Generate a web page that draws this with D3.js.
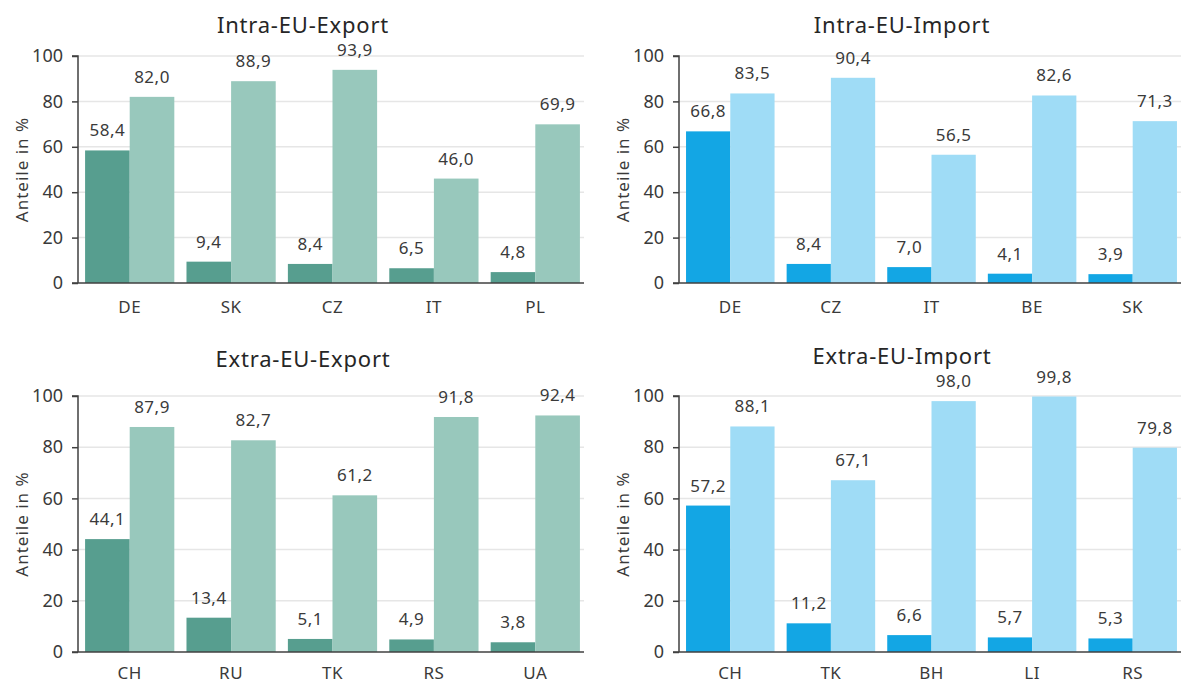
<!DOCTYPE html>
<html>
<head>
<meta charset="utf-8">
<script src="https://cdn.jsdelivr.net/npm/d3@7"></script>
<style>
  html, body { margin: 0; padding: 0; background: #fff; }
  svg { display: block; font-family: "Noto Sans", "Open Sans", sans-serif; }
</style>
</head>
<body>
<svg id="chart" width="1181" height="684"></svg>
<script>
// Shares in % for the top partner countries (dark = first series, light = second series)
const intraExportCats = ["DE", "SK", "CZ", "IT", "PL"];
const intraExportA = [58.4, 9.4, 8.4, 6.5, 4.8];
const intraExportB = [82.0, 88.9, 93.9, 46.0, 69.9];

const intraImportCats = ["DE", "CZ", "IT", "BE", "SK"];
const intraImportA = [66.8, 8.4, 7.0, 4.1, 3.9];
const intraImportB = [83.5, 90.4, 56.5, 82.6, 71.3];

const extraExportCats = ["CH", "RU", "TK", "RS", "UA"];
const extraExportA = [44.1, 13.4, 5.1, 4.9, 3.8];
const extraExportB = [87.9, 82.7, 61.2, 91.8, 92.4];

const extraImportCats = ["CH", "TK", "BH", "LI", "RS"];
const extraImportA = [57.2, 11.2, 6.6, 5.7, 5.3];
const extraImportB = [88.1, 67.1, 98.0, 99.8, 79.8];

const yTicks = [0, 20, 40, 60, 80, 100];
const yLabel = "Anteile in %";

const greens = ["#579e8f", "#98c8bc"];
const blues = ["#13a6e4", "#9fdcf6"];

const panels = [
  { title: "Intra-EU-Export", cats: intraExportCats, a: intraExportA, b: intraExportB, colors: greens,
    axisX: 78, x0: 79, x1: 586, yTop: 56, yBottom: 283, titleX: 303, titleY: 33, catY: 313 },
  { title: "Intra-EU-Import", cats: intraImportCats, a: intraImportA, b: intraImportB, colors: blues,
    axisX: 679, x0: 680, x1: 1183, yTop: 56, yBottom: 283, titleX: 902, titleY: 33, catY: 313 },
  { title: "Extra-EU-Export", cats: extraExportCats, a: extraExportA, b: extraExportB, colors: greens,
    axisX: 78, x0: 79, x1: 586, yTop: 396, yBottom: 652, titleX: 303, titleY: 367, catY: 679 },
  { title: "Extra-EU-Import", cats: extraImportCats, a: extraImportA, b: extraImportB, colors: blues,
    axisX: 679, x0: 680, x1: 1183, yTop: 396, yBottom: 652, titleX: 902, titleY: 364, catY: 679 }
];

const svg = d3.select("#chart");
const fmt = v => d3.format(".1f")(v).replace(".", ",");
const textColor = "#3a3a3a";

panels.forEach(p => {
  const g = svg.append("g");
  const y = d3.scaleLinear().domain([0, 100]).range([p.yBottom, p.yTop]);
  const x = d3.scaleBand().domain(p.cats).range([p.x0, p.x1]).paddingInner(0.12).paddingOuter(0.06);
  const xs = d3.scaleBand().domain(["a", "b"]).range([0, x.bandwidth()]);

  // gridlines
  g.append("g").selectAll("line").data(yTicks.filter(t => t > 0)).join("line")
    .attr("x1", p.axisX).attr("x2", p.x1 - 2)
    .attr("y1", d => y(d)).attr("y2", d => y(d))
    .attr("stroke", "#e6e6e6").attr("stroke-width", 1.5);

  // bars
  const rows = p.cats.map((c, i) => ({ cat: c, a: p.a[i], b: p.b[i] }));
  const grp = g.append("g").selectAll("g").data(rows).join("g")
    .attr("transform", d => `translate(${x(d.cat)},0)`);
  grp.selectAll("rect").data(d => [{ k: "a", v: d.a }, { k: "b", v: d.b }]).join("rect")
    .attr("x", d => xs(d.k)).attr("width", xs.bandwidth())
    .attr("y", d => y(d.v)).attr("height", d => y(0) - y(d.v))
    .attr("fill", d => d.k === "a" ? p.colors[0] : p.colors[1]);
  grp.selectAll("text").data(d => [{ k: "a", v: d.a }, { k: "b", v: d.b }]).join("text")
    .attr("x", d => xs(d.k) + xs.bandwidth() / 2)
    .attr("y", d => y(d.v) - 14)
    .attr("text-anchor", "middle")
    .attr("font-size", 17).attr("letter-spacing", 0.5).attr("fill", textColor)
    .text(d => fmt(d.v));

  // y axis
  const yAxis = d3.axisLeft(y).tickValues(yTicks).tickSize(6).tickPadding(9);
  const ya = g.append("g").attr("transform", `translate(${p.axisX},0)`).call(yAxis);
  ya.attr("font-family", null);
  ya.select(".domain").attr("stroke", "#404040").attr("stroke-width", 1.5).attr("d", `M-6,${p.yTop}H0V${p.yBottom}`);
  ya.selectAll(".tick line").attr("stroke", "#404040").attr("stroke-width", 1.5);
  ya.selectAll(".tick text").attr("font-size", 18).attr("fill", textColor);

  // x axis
  const xAxis = d3.axisBottom(x).tickSize(0).tickPadding(0);
  const xa = g.append("g").attr("transform", `translate(0,${p.yBottom})`).call(xAxis);
  xa.attr("font-family", null);
  xa.select(".domain").attr("stroke", "#404040").attr("stroke-width", 1.5).attr("d", `M${p.axisX - 6},0H${p.x1 - 2}`);
  xa.selectAll(".tick text").attr("font-size", 17).attr("letter-spacing", 0.5).attr("fill", textColor)
    .attr("dy", null).attr("y", p.catY - p.yBottom);

  // y label
  g.append("text")
    .attr("transform", `translate(${p.axisX - 50},${(p.yTop + p.yBottom) / 2}) rotate(-90)`)
    .attr("text-anchor", "middle").attr("font-size", 17).attr("letter-spacing", 1).attr("fill", textColor)
    .text(yLabel);

  // title
  g.append("text")
    .attr("x", p.titleX).attr("y", p.titleY)
    .attr("text-anchor", "middle").attr("font-size", 22).attr("letter-spacing", 0.8).attr("fill", "#262626")
    .text(p.title);
});
</script>
</body>
</html>
